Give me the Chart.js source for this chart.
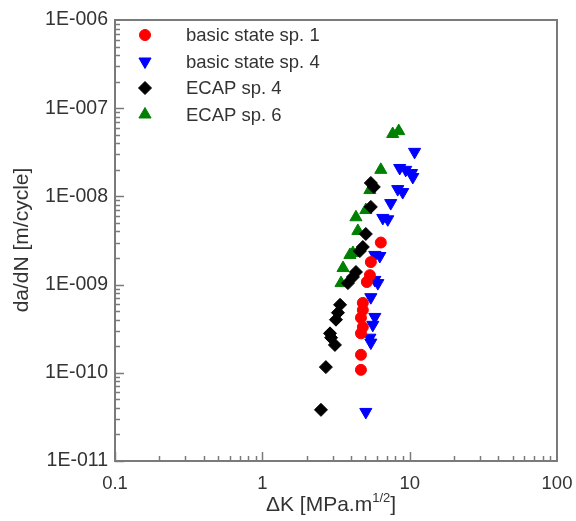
<!DOCTYPE html>
<html>
<head>
<meta charset="utf-8">
<script src="https://cdn.jsdelivr.net/npm/chart.js@4"></script>
<style>
  body { margin: 0; background: #fff; }
  #chart { display: block; }
</style>
</head>
<body>
<canvas id="chart" width="576" height="521"></canvas>
<script>
// valores (ΔK em MPa.m^1/2, da/dN em m/ciclo)
const seriesNames = ["basic state sp. 1", "basic state sp. 4", "ECAP sp. 4", "ECAP sp. 6"];

const basico1K = [6.37, 5.45, 5.37, 5.12, 4.81, 4.81, 4.67, 4.81, 4.67, 4.67, 4.67];
const basico1Taxa = [3.0e-9, 1.8e-9, 1.28e-9, 1.07e-9, 6.2e-10, 5.15e-10, 4.2e-10, 3.3e-10, 2.8e-10, 1.6e-10, 1.08e-10];

const basico4K = [10.8, 8.56, 9.4, 10.3, 10.5, 8.3, 8.97, 7.44, 6.57, 7.1, 5.8, 6.27, 5.8, 6.08, 5.45, 5.8, 5.62, 5.37, 5.45, 5.04];
const basico4Taxa = [3.2e-8, 2.1e-8, 2.0e-8, 1.84e-8, 1.66e-8, 1.21e-8, 1.12e-8, 8.4e-9, 5.7e-9, 5.5e-9, 2.17e-9, 2.11e-9, 1.13e-9, 1.04e-9, 7.2e-10, 4.3e-10, 3.5e-10, 2.5e-10, 2.2e-10, 3.6e-11];

const ecap4K = [5.45, 5.71, 5.45, 5.04, 4.81, 4.59, 4.32, 4.12, 3.81, 3.37, 3.26, 3.16, 2.88, 2.93, 3.11, 2.70, 2.50];
const ecap4Taxa = [1.42e-8, 1.28e-8, 7.6e-9, 3.75e-9, 2.67e-9, 2.4e-9, 1.39e-9, 1.22e-9, 1.04e-9, 5.9e-10, 4.8e-10, 4.0e-10, 2.8e-10, 2.5e-10, 2.07e-10, 1.16e-10, 3.8e-11];

const ecap6K = [7.67, 8.43, 6.37, 5.37, 5.04, 4.32, 4.45, 4.12, 3.93, 3.53, 3.42];
const ecap6Taxa = [5.1e-8, 5.5e-8, 2.0e-8, 1.18e-8, 7.0e-9, 5.8e-9, 4.06e-9, 2.28e-9, 2.17e-9, 1.54e-9, 1.04e-9];

const xTicks = [0.1, 1, 10, 100];
const yTicks = [1e-11, 1e-10, 1e-9, 1e-8, 1e-7, 1e-6];

const fonte = "'Liberation Sans', Arial, sans-serif";
const corTexto = "#333";
const corEixo = "#7a7a7a";

function pontos(xs, ys) {
  return xs.map((x, i) => ({ x: x, y: ys[i] }));
}

function decadaExata(v) {
  const e = Math.log10(v);
  return Math.abs(e - Math.round(e)) < 1e-6;
}

// moldura, marcas menores/maiores, títulos e legenda
const desenhoExtra = {
  id: "desenhoExtra",
  afterDraw(chart) {
    const ctx = chart.ctx;
    const a = chart.chartArea;
    const sx = chart.scales.x;
    const sy = chart.scales.y;

    ctx.save();
    ctx.strokeStyle = corEixo;
    ctx.lineWidth = 1.5;

    // marcas no eixo x (para dentro)
    for (let d = -1; d < 2; d++) {
      for (let m = 1; m <= 9; m++) {
        const v = m * Math.pow(10, d);
        const px = Math.round(sx.getPixelForValue(v)) + 0.5;
        const len = m === 1 ? 9 : 5;
        ctx.beginPath();
        ctx.moveTo(px, a.bottom);
        ctx.lineTo(px, a.bottom - len);
        ctx.stroke();
      }
    }
    // marcas no eixo y
    for (let d = -11; d < -6; d++) {
      for (let m = 1; m <= 9; m++) {
        const v = m * Math.pow(10, d);
        const py = Math.round(sy.getPixelForValue(v)) + 0.5;
        const len = m === 1 ? 9 : 5;
        ctx.beginPath();
        ctx.moveTo(a.left, py);
        ctx.lineTo(a.left + len, py);
        ctx.stroke();
      }
    }

    // moldura
    ctx.lineWidth = 2;
    ctx.strokeRect(a.left, a.top, a.right - a.left, a.bottom - a.top);

    // título eixo y
    ctx.fillStyle = corTexto;
    ctx.font = "21px " + fonte;
    ctx.textAlign = "center";
    ctx.textBaseline = "middle";
    ctx.save();
    ctx.translate(22, 240);
    ctx.rotate(-Math.PI / 2);
    ctx.fillText("da/dN [m/cycle]", 0, 0);
    ctx.restore();

    // título eixo x com expoente
    ctx.textAlign = "left";
    ctx.textBaseline = "alphabetic";
    const base = "\u0394K [MPa.m";
    const sup = "1/2";
    ctx.font = "21px " + fonte;
    const wBase = ctx.measureText(base).width;
    ctx.font = "13px " + fonte;
    const wSup = ctx.measureText(sup).width;
    ctx.font = "21px " + fonte;
    const wFim = ctx.measureText("]").width;
    let x0 = 331 - (wBase + wSup + wFim) / 2;
    const yb = 511;
    ctx.fillText(base, x0, yb);
    ctx.font = "13px " + fonte;
    ctx.fillText(sup, x0 + wBase, yb - 9);
    ctx.font = "21px " + fonte;
    ctx.fillText("]", x0 + wBase + wSup, yb);

    // legenda
    ctx.font = "18.5px " + fonte;
    ctx.textBaseline = "middle";
    chart.data.datasets.forEach((ds, i) => {
      const y = 35 + i * 26.5;
      ctx.fillStyle = ds.backgroundColor;
      ctx.strokeStyle = ds.borderColor;
      ctx.lineWidth = 1;
      Chart.helpers.drawPoint(ctx, {
        pointStyle: ds.pointStyle,
        rotation: ds.rotation || 0,
        radius: ds.pointRadius,
        borderWidth: 1
      }, 145, y);
      ctx.fillStyle = corTexto;
      ctx.fillText(ds.label, 186, y + 1);
    });

    ctx.restore();
  }
};

function serie(nome, xs, ys, cor, estilo, rot, raio) {
  return {
    label: nome,
    data: pontos(xs, ys),
    backgroundColor: cor,
    borderColor: cor,
    borderWidth: 1,
    pointStyle: estilo,
    rotation: rot,
    pointRadius: raio,
    pointHoverRadius: raio
  };
}

new Chart(document.getElementById("chart"), {
  type: "scatter",
  data: {
    datasets: [
      serie(seriesNames[0], basico1K, basico1Taxa, "#ff0000", "circle", 0, 5.5),
      serie(seriesNames[1], basico4K, basico4Taxa, "#0000ff", "triangle", 180, 7),
      serie(seriesNames[2], ecap4K, ecap4Taxa, "#000000", "rectRot", 0, 6.5),
      serie(seriesNames[3], ecap6K, ecap6Taxa, "#008000", "triangle", 0, 7)
    ]
  },
  options: {
    responsive: false,
    animation: false,
    layout: { padding: { top: 20, right: 19, left: 0, bottom: 0 } },
    plugins: {
      legend: { display: false },
      tooltip: { enabled: false }
    },
    scales: {
      x: {
        type: "logarithmic",
        min: 0.1,
        max: 100,
        grid: { display: false, drawTicks: false },
        border: { display: false },
        afterBuildTicks: (s) => { s.ticks = xTicks.map(v => ({ value: v })); },
        afterFit: (s) => { s.height = 60; s.paddingLeft = 0; s.paddingRight = 0; },
        ticks: {
          autoSkip: false,
          maxRotation: 0,
          padding: 12,
          color: corTexto,
          font: { family: fonte, size: 18.5 },
          callback: (v) => decadaExata(v) ? String(v) : ""
        }
      },
      y: {
        type: "logarithmic",
        min: 1e-11,
        max: 1e-6,
        grid: { display: false, drawTicks: false },
        border: { display: false },
        afterBuildTicks: (s) => { s.ticks = yTicks.map(v => ({ value: v })); },
        afterFit: (s) => { s.width = 115; s.paddingTop = 0; s.paddingBottom = 0; },
        ticks: {
          autoSkip: false,
          padding: 7,
          color: corTexto,
          font: { family: fonte, size: 19.5 },
          callback: (v) => {
            if (!decadaExata(v)) return "";
            const e = Math.round(Math.log10(v));
            return "1E-" + String(-e).padStart(3, "0");
          }
        }
      }
    }
  },
  plugins: [desenhoExtra]
});
</script>
</body>
</html>
